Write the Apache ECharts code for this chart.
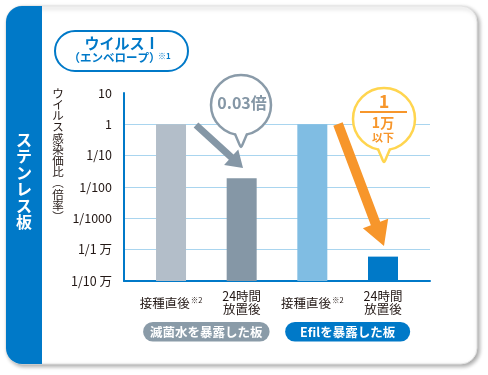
<!DOCTYPE html>
<html><head><meta charset="utf-8">
<script src="https://cdn.jsdelivr.net/npm/echarts@6/dist/echarts.min.js"></script>
<style>html,body{margin:0;padding:0;background:#fff}#c{width:488px;height:375px}</style>
</head><body><div id="c"></div>
<script>
// ---- data ----
const categories = ['接種直後※2', '24時間\n放置後', '接種直後※2', '24時間\n放置後'];
const values = [1, 0.019, 1, 0.00006];
const groups = ['滅菌水を暴露した板', 'Efilを暴露した板'];
const yTickLabels = ['1/10 万', '1/1 万', '1/1000', '1/100', '1/10', '1', '10']; // 1e-5 .. 1e1
const yMin = 0.00001;
const yMax = 10;
const yAxisTitle = 'ウイルス感染価比︵倍率︶';
const sideTitle = 'ステンレス板';
const callout1 = '0.03倍';

// ---- styles ----
const barColors = ['#B3BEC9', '#8597A6', '#80BDE3', '#0079C8'];
const BLUE = '#0079C8';
const FONT = '"Noto Sans CJK JP", "Noto Sans", sans-serif';

const chart = echarts.init(document.getElementById('c'), null, {renderer: 'canvas'});

function arrow(S, T, sw, hw, hl) {
  const dx = T[0] - S[0], dy = T[1] - S[1];
  const L = Math.hypot(dx, dy);
  const ux = dx / L, uy = dy / L, nx = -uy, ny = ux;
  const B = [T[0] - ux * hl, T[1] - uy * hl];
  return [
    [S[0] + nx * sw / 2, S[1] + ny * sw / 2],
    [B[0] + nx * sw / 2, B[1] + ny * sw / 2],
    [B[0] + nx * hw / 2, B[1] + ny * hw / 2],
    T,
    [B[0] - nx * hw / 2, B[1] - ny * hw / 2],
    [B[0] - nx * sw / 2, B[1] - ny * sw / 2],
    [S[0] - nx * sw / 2, S[1] - ny * sw / 2]
  ];
}

function bubble(cx, cy, r, color, tipY) {
  const by = cy + Math.sqrt(r * r - 36);
  return [
    {type: 'circle', z: 100, shape: {cx: cx, cy: cy, r: r}, style: {fill: '#fff', stroke: color, lineWidth: 2.5}},
    {type: 'polygon', z: 101, shape: {points: [[cx - 5, by - 4], [cx + 5, by - 4], [cx + 5, by + 1], [cx - 5, by + 1]]}, style: {fill: '#fff'}},
    {type: 'polyline', z: 102, shape: {points: [[cx - 6, by - 0.5], [cx - 3, tipY - 6], [cx, tipY], [cx + 3, tipY - 6], [cx + 6, by - 0.5]], smooth: 0.3}, style: {fill: '#fff', stroke: color, lineWidth: 2.5}}
  ];
}

function txt(text, x, y, size, color, weight, extra) {
  return {
    type: 'text', z: 110,
    style: Object.assign({
      text: text, x: x, y: y, fill: color,
      font: (weight || 'normal') + ' ' + size + 'px ' + FONT,
      align: 'center', verticalAlign: 'middle', textAlign: 'center', textVerticalAlign: 'middle'
    }, extra || {})
  };
}

const option = {
  animation: false,
  textStyle: {fontFamily: FONT},
  grid: [
    {left: 124, right: 58, top: 93, bottom: 94},
    {left: 135.7, right: 69.7, top: 93, bottom: 94}
  ],
  xAxis: [
    {gridIndex: 0, type: 'value', min: 0, max: 1, position: 'bottom', axisLabel: {show: false}, axisTick: {show: false}, splitLine: {show: false},
     axisLine: {show: true, lineStyle: {color: BLUE, width: 2}}},
    {gridIndex: 1, type: 'category', data: categories, position: 'bottom', axisLine: {show: false}, axisTick: {show: false},
     axisLabel: {
       margin: 22, verticalAlign: 'middle', interval: 0, color: '#231815', fontSize: 12.5, lineHeight: 13,
       formatter: function (v) {
         if (v.indexOf('※') >= 0) {
           const p = v.split('※');
           return '{m|' + p[0] + '}{s|※' + p[1] + '}';
         }
         return v.split('\n').map(function (l) { return '{m|' + l + '}'; }).join('\n');
       },
       rich: {m: {fontSize: 12.5, lineHeight: 13, color: '#231815'}, s: {fontSize: 7.5, color: '#231815', padding: [0, 0, 6, 1]}}
     }},
    {gridIndex: 1, type: 'category', data: groups, position: 'bottom', axisLine: {show: false}, axisTick: {show: false},
     axisLabel: {
       margin: 41, interval: 0,
       formatter: function (v, i) { return (i === 0 ? '{a|' : '{b|') + v + '}'; },
       rich: {
         a: {backgroundColor: '#8A9BA8', color: '#fff', fontWeight: 'bold', fontSize: 12.5, borderRadius: 10, padding: [4, 7, 3, 7]},
         b: {backgroundColor: BLUE, color: '#fff', fontWeight: 'bold', fontSize: 12.5, borderRadius: 10, padding: [4, 15, 3, 15]}
       }
     }}
  ],
  yAxis: [
    {gridIndex: 0, type: 'log', logBase: 10, min: yMin, max: yMax, interval: 1,
     axisLine: {show: true, lineStyle: {color: BLUE, width: 2}}, axisTick: {show: false},
     axisLabel: {margin: 12, color: '#231815', fontSize: 12.5,
       formatter: function (v) { return yTickLabels[Math.round(Math.log10(v)) + 5]; }},
     splitLine: {show: true, showMaxLine: false, showMinLine: false, lineStyle: {color: '#A9D5EF', width: 1}}},
    {gridIndex: 1, type: 'log', logBase: 10, min: yMin, max: yMax, interval: 1, show: false}
  ],
  series: [{
    type: 'custom', xAxisIndex: 1, yAxisIndex: 1, z: 2,
    data: values.map(function (v, i) { return [i, v]; }),
    encode: {x: 0, y: 1},
    renderItem: function (params, api) {
      const i = api.value(0);
      const top = api.coord([i, api.value(1)]);
      const bottom = api.coord([i, yMin]);
      const w = 30;
      return {
        type: 'rect',
        shape: {x: top[0] - w / 2, y: top[1], width: w, height: bottom[1] - top[1]},
        style: {fill: barColors[params.dataIndex]}
      };
    }
  }],
  graphic: [].concat(
    [
      {type: 'rect', z: -10, shape: {x: 6, y: 6, width: 471, height: 358, r: 16},
       style: {fill: '#fff', stroke: '#e2e2e2', lineWidth: 1, shadowBlur: 4, shadowOffsetX: 2, shadowOffsetY: 2, shadowColor: 'rgba(0,0,0,0.35)'}},
      {type: 'rect', z: -9, shape: {x: 6, y: 6, width: 36, height: 358, r: [16, 0, 0, 16]}, style: {fill: BLUE}},
      txt(sideTitle.split('').join('\n'), 24, 181, 16, '#fff', 'bold', {lineHeight: 16.5}),
      txt(yAxisTitle.split('').join('\n'), 58, 155, 11.5, '#231815', 'normal', {lineHeight: 11.2}),
      {type: 'rect', z: 10, shape: {x: 55, y: 31, width: 133, height: 40, r: 20}, style: {fill: '#fff', stroke: BLUE, lineWidth: 2}},
      txt('ウイルスⅠ', 122, 43, 15, BLUE, 'bold'),
      txt('（エンベロープ）', 114.5, 58, 11.5, BLUE, 'bold'),
      txt('※1', 158, 56, 8, BLUE, 'bold', {align: 'left', textAlign: 'left'}),
      {type: 'polygon', z: 90, shape: {points: arrow([196, 125], [243, 168], 7, 21, 16)}, style: {fill: '#8597A6'}},
      {type: 'polygon', z: 90, shape: {points: arrow([338, 124], [384, 246], 10, 27, 24)}, style: {fill: '#F7962B'}}
    ],
    bubble(241, 105, 30, '#8A9BA9', 147),
    [txt(callout1, 242, 103, 16, '#8597A6', 'bold')],
    bubble(384, 119, 31, '#FFD54F', 162),
    [
      txt('1', 384, 101, 18, '#F7962B', 'bold'),
      {type: 'rect', z: 110, shape: {x: 360, y: 111, width: 47, height: 2}, style: {fill: '#F7962B'}},
      txt('1万', 383, 123, 14, '#F7962B', 'bold'),
      txt('以下', 383, 138, 11, '#F7962B', 'bold')
    ]
  )
};
chart.setOption(option);
</script></body></html>
